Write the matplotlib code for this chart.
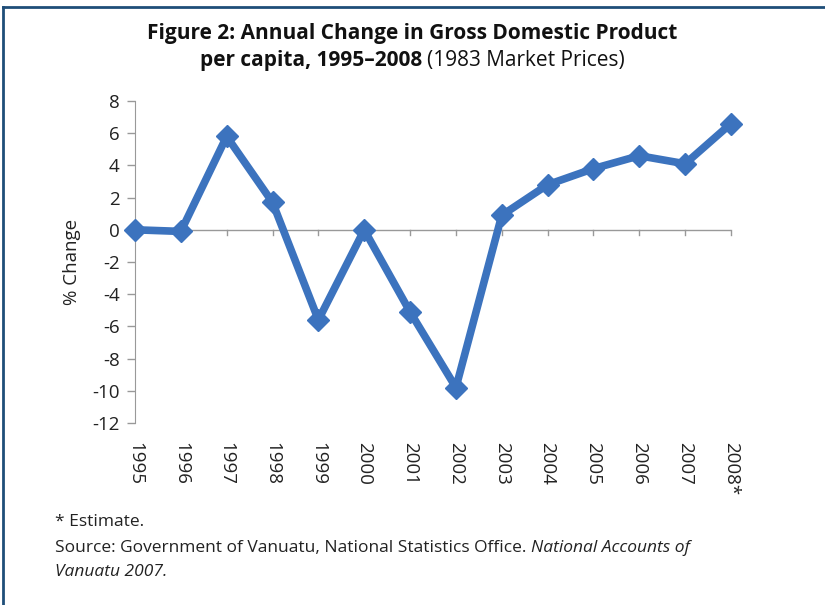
import numpy as np
import matplotlib.pyplot as plt
from matplotlib.lines import Line2D

# Data
years = ['1995', '1996', '1997', '1998', '1999', '2000', '2001',
         '2002', '2003', '2004', '2005', '2006', '2007', '2008*']
gdp_change = [0.0, -0.1, 5.8, 1.7, -5.6, 0.0, -5.1,
              -9.8, 0.9, 2.8, 3.8, 4.6, 4.1, 6.6]
y_ticks = [8, 6, 4, 2, 0, -2, -4, -6, -8, -10, -12]

plt.rcParams['font.family'] = ['Open Sans', 'DejaVu Sans']

fig = plt.figure(figsize=(8.25, 6.05), dpi=100)
ax = fig.add_axes([135 / 825, 1 - 423 / 605, 596 / 825, 322 / 605])

x = np.arange(len(years))
ax.plot(x, gdp_change, color='#3c73be', linewidth=5.5, marker='D',
        markersize=11, solid_joinstyle='miter', zorder=3, clip_on=False)

ax.set_xlim(0, len(years) - 1)
ax.set_ylim(-12, 8)
ax.set_yticks(y_ticks)
ax.set_yticklabels([str(t) for t in y_ticks], fontsize=13.5)

# x axis crosses at zero, labels stay at the bottom
for s in ['top', 'right', 'bottom']:
    ax.spines[s].set_visible(False)
ax.spines['left'].set_color('#999999')
ax.tick_params(axis='y', colors='#999999', labelcolor='#222222',
               length=6, width=1, pad=5)
ax.set_xticks([])
ax.axhline(0, color='#999999', linewidth=1, zorder=1)
for i in x[1:]:
    ax.plot([i, i], [0, -0.35], color='#999999', linewidth=1, zorder=1,
            clip_on=False)

for i, lab in zip(x, years):
    ax.text(i, -13.2, lab, rotation=270, ha='center', va='top',
            fontsize=13.5, color='#222222')

ax.set_ylabel('% Change', fontsize=13.5, color='#222222', labelpad=8)

# Title
fig.text(0.5, 0.945, 'Figure 2: Annual Change in Gross Domestic Product',
         ha='center', va='center', fontsize=15, fontweight='bold',
         color='#111111')
t1 = fig.text(0.242, 0.9, 'per capita, 1995\u20132008', ha='left', va='center',
              fontsize=15, fontweight='bold', color='#111111')
fig.canvas.draw()
bb = t1.get_window_extent()
fig.text(bb.x1 / fig.bbox.width + 0.006, 0.9, '(1983 Market Prices)',
         ha='left', va='center', fontsize=15, color='#111111')

# Notes
fig.text(0.067, 0.137, '* Estimate.', fontsize=12.5, color='#222222',
         va='center')
s1 = fig.text(0.067, 0.094,
              'Source: Government of Vanuatu, National Statistics Office. ',
              fontsize=12.5, color='#222222', va='center')
fig.canvas.draw()
bb = s1.get_window_extent()
fig.text(bb.x1 / fig.bbox.width, 0.094, 'National Accounts of',
         fontsize=12.5, style='italic', color='#222222', va='center')
fig.text(0.067, 0.054, 'Vanuatu 2007.', fontsize=12.5, style='italic',
         color='#222222', va='center')

# Border on top and left
fig.add_artist(Line2D([3 / 825, 1], [1 - 6.5 / 605, 1 - 6.5 / 605],
                      color='#1f4e79', linewidth=2, transform=fig.transFigure))
fig.add_artist(Line2D([3 / 825, 3 / 825], [0, 1 - 6.5 / 605],
                      color='#1f4e79', linewidth=2, transform=fig.transFigure))

fig.savefig('out.png', dpi=100)
